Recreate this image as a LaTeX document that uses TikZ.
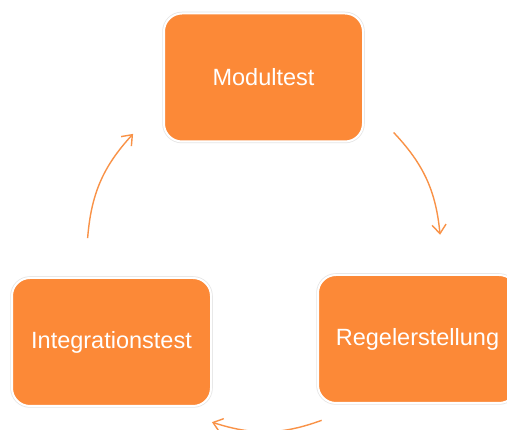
\documentclass[tikz,border=0pt]{standalone}
\usepackage{fontspec}
\setmainfont{Liberation Sans}
\usetikzlibrary{arrows.meta,calc}
\definecolor{boxorange}{HTML}{FC8937}
\definecolor{arroworange}{HTML}{F99247}
\begin{document}
\begin{tikzpicture}[x=1pt,y=1pt,
  phasebox/.style={rectangle,rounded corners=18pt,fill=boxorange,draw=white,line width=2pt,
    preaction={draw=black!10,line width=3.5pt},minimum width=199pt,minimum height=128pt,
    text=white,font=\fontsize{23.5}{28}\selectfont},
  cyclearrow/.style={draw=arroworange,line width=1.4pt,-{Straight Barb[length=9pt,width=14pt]},bend left=19}]
\clip (0,0) rectangle (507,430);
\fill[white] (0,0) rectangle (507,430);
% the three phases
\node[phasebox] (modul) at (263.5,352.5) {Modultest};
\node[phasebox] (regel) at (417.5,91) {Regelerstellung};
\node[phasebox] (integ) at (111.5,88) {Integrationstest};
% arrow ends on one circle round the middle
\coordinate (mid) at (264,177);
\coordinate (a1) at ($(mid)+(42.9:177)$);
\coordinate (a2) at ($(mid)+(5.9:177)$);
\coordinate (b1) at ($(mid)+(289:177)$);
\coordinate (b2) at ($(mid)+(252.9:177)$);
\coordinate (c1) at ($(mid)+(175.2:177)$);
\coordinate (c2) at ($(mid)+(137.7:177)$);
\draw[cyclearrow] (a1) to (a2);
\draw[cyclearrow] (b1) to (b2);
\draw[cyclearrow] (c1) to (c2);
\end{tikzpicture}
\end{document}
